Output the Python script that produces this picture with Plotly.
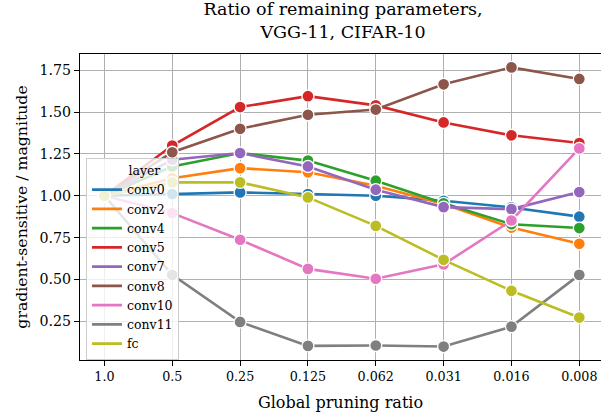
import plotly.graph_objects as go

x_labels = ["1.0", "0.5", "0.25", "0.125", "0.062", "0.031", "0.016", "0.008"]
layers = ["conv0", "conv2", "conv4", "conv5", "conv7", "conv8", "conv10", "conv11", "fc"]
colors = ["#1f77b4", "#ff7f0e", "#2ca02c", "#d62728", "#9467bd",
          "#8c564b", "#e377c2", "#7f7f7f", "#bcbd22"]

conv0 = [1.00, 1.01, 1.02, 1.01, 1.00, 0.97, 0.93, 0.875]
conv2 = [1.00, 1.105, 1.165, 1.14, 1.06, 0.95, 0.81, 0.713]
conv4 = [1.00, 1.175, 1.255, 1.21, 1.09, 0.955, 0.83, 0.807]
conv5 = [1.00, 1.30, 1.53, 1.595, 1.54, 1.438, 1.361, 1.315]
conv7 = [1.00, 1.215, 1.255, 1.175, 1.036, 0.932, 0.92, 1.022]
conv8 = [1.00, 1.26, 1.40, 1.484, 1.515, 1.666, 1.767, 1.698]
conv10 = [1.00, 0.896, 0.737, 0.563, 0.504, 0.59, 0.852, 1.283]
conv11 = [1.00, 0.527, 0.246, 0.103, 0.105, 0.099, 0.218, 0.527]
fc = [1.00, 1.08, 1.08, 0.99, 0.82, 0.617, 0.432, 0.272]

series = [conv0, conv2, conv4, conv5, conv7, conv8, conv10, conv11, fc]
xpos = list(range(len(x_labels)))

FONT = "DejaVu Serif"

fig = go.Figure()
for name, vals, col in zip(layers, series, colors):
    fig.add_trace(go.Scatter(
        x=xpos, y=vals, mode="lines+markers", name=name, showlegend=False,
        line=dict(color=col, width=2.6),
        marker=dict(size=12, color=col, line=dict(color="white", width=1.3)),
    ))
for name, col in zip(layers, colors):
    fig.add_trace(go.Scatter(
        x=[None], y=[None], mode="lines", name=name, showlegend=True,
        line=dict(color=col, width=2.6),
    ))

fig.update_layout(
    width=601, height=417,
    margin=dict(l=80, r=0, t=54, b=56.5),
    paper_bgcolor="white", plot_bgcolor="white",
    font=dict(family=FONT, size=14, color="black"),
    title=dict(text="Ratio of remaining parameters,<br>VGG-11, CIFAR-10",
               x=343 / 601, xanchor="center", y=1 - 15 / 417, yanchor="top",
               font=dict(family=FONT, size=17.5)),
    legend=dict(
        title=dict(text="\u00a0" * 6 + "layer", side="top center", font=dict(size=12.5)),
        x=0.0115, xanchor="left", y=0.661, yanchor="top",
        bgcolor="rgba(255,255,255,0.8)", bordercolor="#cccccc", borderwidth=1,
        font=dict(family=FONT, size=12.5), tracegroupgap=0,
        itemwidth=30,
    ),
)
fig.update_xaxes(
    range=[-0.36, 7.32], tickvals=xpos, ticktext=x_labels,
    showgrid=True, gridcolor="#b0b0b0", gridwidth=1,
    showline=True, linecolor="black", linewidth=1.2, mirror=True,
    ticks="outside", ticklen=5, tickcolor="black", zeroline=False,
    tickfont=dict(size=12.7),
    title=dict(text="Global pruning ratio", standoff=13, font=dict(size=16)),
)
fig.update_yaxes(
    range=[0.0185, 1.847], tickvals=[0.25, 0.5, 0.75, 1.0, 1.25, 1.5, 1.75],
    ticktext=["0.25", "0.50", "0.75", "1.00", "1.25", "1.50", "1.75"],
    showgrid=True, gridcolor="#b0b0b0", gridwidth=1,
    showline=True, linecolor="black", linewidth=1.2, mirror=True,
    ticks="outside", ticklen=5, tickcolor="black", zeroline=False,
    tickfont=dict(size=14.2),
    title=dict(text="gradient-sensitive / magnitude", standoff=7, font=dict(size=15.7)),
)

fig.write_html(
    "out.html",
    config={"displayModeBar": False},
    post_script="document.body.style.margin='0';document.body.style.overflow='hidden';",
)
